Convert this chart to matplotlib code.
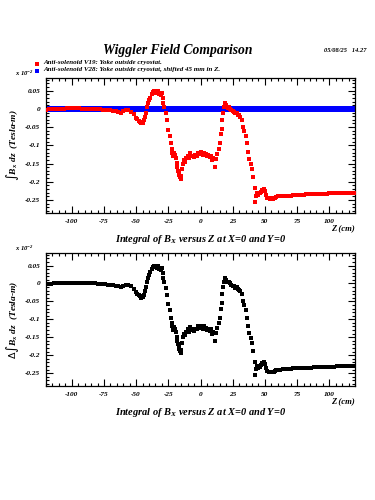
import numpy as np
import matplotlib
matplotlib.use("Agg")
import matplotlib.pyplot as plt
from matplotlib.lines import Line2D
from matplotlib.ticker import MultipleLocator, FuncFormatter

# Z positions (cm) and integral of Bx (Tesla-m), V19 anti-solenoid
z_v19 = [-120, -118, -116, -114, -112, -110, -108, -106, -104, -102, -100, -98, -96, -94,
         -92, -90, -88, -86, -84, -82, -80, -78, -76, -74, -72, -70, -68, -66, -64, -62,
         -60, -58, -56, -54, -52, -50, -49, -48, -47, -46, -45, -44, -43, -42, -41.5, -41,
         -40, -39, -38, -37, -36, -35, -34, -33, -32, -31, -30, -29.5, -29, -28, -27, -26,
         -25, -24, -23, -22.5, -22, -21, -20.5, -20, -19, -18.5, -18, -17.5, -17, -16.5,
         -16, -15.5, -15, -14, -13.5, -13, -12, -11, -10, -9, -8, -7, -6, -5, -4, -3, -2,
         -1, 0, 1, 2, 3, 4, 5, 6, 7, 8, 9, 10, 11, 12, 13, 14, 15, 16, 16.5, 17, 17.5, 18,
         19, 19.5, 20, 21, 22, 23, 24, 25, 26, 27, 28, 29, 30, 31, 32, 33, 34, 35, 36, 37,
         38, 39, 40, 41, 42, 42.5, 43, 44, 45, 46, 47, 48, 49, 50, 51, 52, 53, 54, 55, 56,
         57, 58, 59, 60, 62, 64, 66, 68, 70, 72, 74, 76, 78, 80, 82, 84, 86, 88, 90, 92, 94,
         96, 98, 100, 102, 104, 106, 108, 110, 112, 114, 116, 118, 120]
b_v19 = [-0.002, -0.001, -0.001, 0.000, 0.000, 0.001, 0.001, 0.001, 0.002, 0.002, 0.002, 0.002,
         0.002, 0.002, 0.001, 0.001, 0.001, 0.000, 0.000, 0.000, -0.001, -0.001, -0.002, -0.002,
         -0.003, -0.004, -0.005, -0.006, -0.008, -0.010, -0.006, -0.003, -0.004, -0.008,
         -0.015, -0.024, -0.028, -0.032, -0.036, -0.040, -0.038, -0.031, -0.022, -0.010, 0.005,
         0.016, 0.025, 0.031, 0.040, 0.046, 0.048, 0.045, 0.043, 0.050, 0.040, 0.038, 0.044,
         0.030, 0.016, 0.005, -0.012, -0.031, -0.058, -0.075, -0.095, -0.109, -0.120, -0.130,
         -0.122, -0.127, -0.135, -0.148, -0.160, -0.170, -0.175, -0.182, -0.188, -0.193,
         -0.185, -0.165, -0.150, -0.140, -0.145, -0.135, -0.128, -0.135, -0.122, -0.130,
         -0.128, -0.132, -0.126, -0.128, -0.120, -0.125, -0.118, -0.122, -0.126, -0.120,
         -0.124, -0.130, -0.126, -0.132, -0.128, -0.140, -0.135, -0.160, -0.138, -0.125,
         -0.110, -0.095, -0.070, -0.055, -0.030, -0.010, 0.005, 0.016, 0.010, 0.008, 0.003,
         0.004, 0.000, -0.004, -0.006, -0.008, -0.012, -0.010, -0.016, -0.018, -0.022, -0.030,
         -0.050, -0.060, -0.075, -0.095, -0.118, -0.138, -0.152, -0.165, -0.188, -0.218,
         -0.255, -0.238, -0.230, -0.236, -0.232, -0.228, -0.222, -0.220, -0.226, -0.236,
         -0.244, -0.246, -0.248, -0.246, -0.248, -0.246, -0.244, -0.242, -0.240, -0.240,
         -0.239, -0.239, -0.238, -0.238, -0.237, -0.237, -0.236, -0.236, -0.236, -0.235,
         -0.235, -0.235, -0.234, -0.234, -0.234, -0.233, -0.233, -0.233, -0.232, -0.232,
         -0.232, -0.231, -0.231, -0.231, -0.231, -0.230, -0.230, -0.230, -0.230]

# V28 (shifted 45 mm in Z) reads flat at zero over the whole range
z_v28 = list(range(-120, 121))
b_v28 = [0.0] * len(z_v28)

diff = np.array(b_v19) - np.interp(z_v19, z_v28, b_v28)

FONT = dict(family="Liberation Serif", weight="bold", style="italic")

fig = plt.figure(figsize=(3.75, 5.0), dpi=100)

def style_axes(ax):
    ax.set_xlim(-120, 120)
    ax.set_ylim(-0.286, 0.085)
    ax.xaxis.set_major_locator(MultipleLocator(25))
    ax.xaxis.set_minor_locator(MultipleLocator(5))
    ax.yaxis.set_major_locator(MultipleLocator(0.05))
    ax.yaxis.set_minor_locator(MultipleLocator(0.01))
    ax.tick_params(which="both", direction="in", top=True, right=True, width=0.8)
    ax.tick_params(which="major", length=5, pad=4)
    ax.tick_params(which="minor", length=2.5)
    ax.xaxis.set_major_formatter(FuncFormatter(lambda v, p: "%g" % v))
    ax.yaxis.set_major_formatter(FuncFormatter(lambda v, p: "%g" % round(v, 3)))
    for lab in ax.get_xticklabels() + ax.get_yticklabels():
        lab.set_fontfamily("Liberation Serif")
        lab.set_fontweight("bold")
        lab.set_fontstyle("italic")
        lab.set_fontsize(5.2)
    for s in ax.spines.values():
        s.set_linewidth(0.9)
    ax.text(1.0, -0.115, "Z (cm)", transform=ax.transAxes, ha="right", va="center",
            fontsize=6.2, **FONT)
    ax.text(0.5, -0.2, r"Integral of B$_{\mathregular{X}}$ versus Z at X=0 and Y=0",
            transform=ax.transAxes, ha="center", va="center", fontsize=7.5, **FONT)
    ax.text(-0.1, 1.0, r"x 10$^{\mathregular{-2}}$", transform=ax.transAxes,
            ha="left", va="bottom", fontsize=4.8, **FONT)

# top panel
ax1 = fig.add_axes([0.1227, 0.574, 0.824, 0.27])
ax1.plot(z_v28, b_v28, ls="none", marker="s", ms=4.3, mew=0, color="#0000ff", zorder=2)
ax1.plot(z_v19, b_v19, ls="none", marker="s", ms=2.4, mew=0, color="#ff0000", zorder=3)
style_axes(ax1)
ax1.set_ylabel(r"$\int$B$_{\mathregular{x}}$ dz  (Tesla-m)", fontsize=6.8, labelpad=3, **FONT)

# bottom panel
ax2 = fig.add_axes([0.1227, 0.228, 0.824, 0.266])
ax2.plot(z_v19, diff, ls="none", marker="s", ms=2.2, mew=0, color="black", zorder=3)
style_axes(ax2)
ax2.set_ylabel(r"$\Delta\int$B$_{\mathregular{x}}$ dz  (Tesla-m)", fontsize=6.8, labelpad=3, **FONT)

# header
fig.text(0.473, 0.899, "Wiggler Field Comparison", ha="center", va="center", fontsize=9.8, **FONT)
fig.text(0.978, 0.899, "05/08/25   14.27", ha="right", va="center", fontsize=4.6, **FONT)
fig.add_artist(Line2D([0.099], [0.873], marker="s", ms=2.5, mew=0, color="#ff0000",
                      transform=fig.transFigure))
fig.add_artist(Line2D([0.099], [0.858], marker="s", ms=2.5, mew=0, color="#0000ff",
                      transform=fig.transFigure))
fig.text(0.115, 0.875, "Anti-solenoid V19: Yoke outside cryostat.", ha="left", va="center",
         fontsize=5.0, **FONT)
fig.text(0.115, 0.860, "Anti-solenoid V28: Yoke outside cryostat, shifted 45 mm in Z.",
         ha="left", va="center", fontsize=5.0, **FONT)

fig.savefig("out.png", dpi=100)
